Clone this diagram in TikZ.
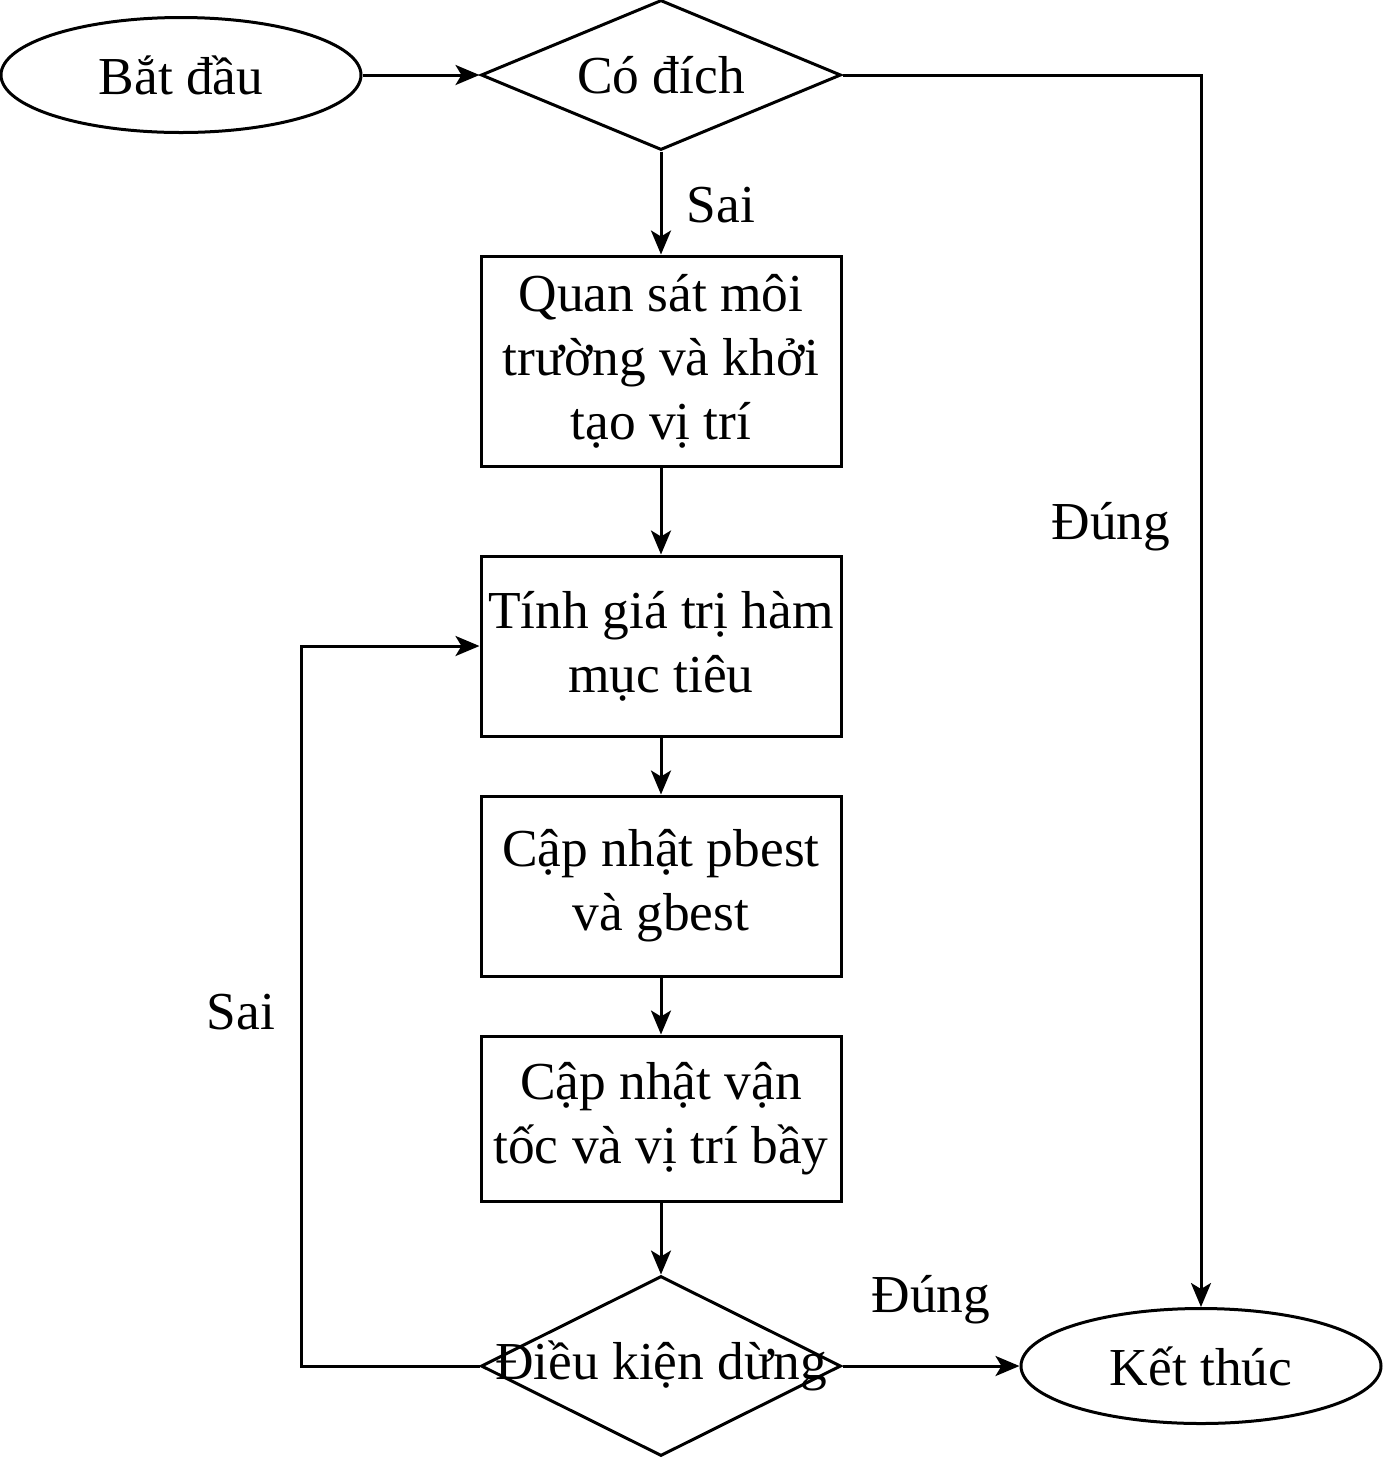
\documentclass[tikz,border=0pt]{standalone}
\usepackage{fontspec}
\setmainfont{Liberation Serif}
\usetikzlibrary{shapes.geometric,arrows.meta}

\begin{document}
\begin{tikzpicture}[x=0.5pt,y=-0.5pt,
    line width=1.5pt,
    font=\fontsize{26.7pt}{32pt}\selectfont,
    flow/.style={-{Stealth[length=12pt,width=10pt,inset=3pt]}},
    terminal/.style={draw,ellipse,minimum width=180pt,minimum height=57.5pt,inner sep=0pt},
    decision/.style={draw,diamond,minimum width=180pt,minimum height=75pt,inner sep=0pt},
    process/.style={draw,rectangle,minimum width=180pt,inner sep=0pt,align=center}]
  \useasboundingbox (0,0) rectangle (1383,1458);

  % Start and first test
  \node[terminal] (start) at (181,75) {Bắt đầu};
  \node[decision] (goal) at (661,75) {};
  \node (goaltext) at (goal) {Có đích};

  % Steps
  \node[process,minimum height=105pt] (observe) at (661,361) {Quan sát môi\\trường và khởi\\tạo vị trí};
  \node[process,minimum height=90pt] (fitness) at (661,646) {Tính giá trị hàm\\mục tiêu};
  \node[process,minimum height=90pt] (best) at (661,886) {Cập nhật pbest\\và gbest};
  \node[process,minimum height=82.5pt] (move) at (661,1118.5) {Cập nhật vận\\tốc và vị trí bầy};

  % Stop test and end
  \node[decision,minimum height=90pt] (stop) at (661,1366) {};
  \node (stoptext) at (stop) {Điều kiện dừng};
  \node[terminal] (finish) at (1201,1366) {Kết thúc};

  % Connectors
  \draw[flow] (start) -- (goal);
  \draw[flow] (goal) -- (observe);
  \draw[flow] (observe) -- (fitness);
  \draw[flow] (fitness) -- (best);
  \draw[flow] (best) -- (move);
  \draw[flow] (move) -- (stop);
  \draw[flow] (stop) -- (finish);
  \draw[flow] (goal.east) -| (finish.north);
  \coordinate (loop) at (301,1366);
  \draw[flow] (stop.west) -- (loop) |- (fitness.west);

  % Labels
  \node (sai1) at (721,205) {Sai};
  \node (dung1) at (1111,527) {Đúng};
  \node (dung2) at (931,1300) {Đúng};
  \node (sai2) at (241,1012) {Sai};
\end{tikzpicture}
\end{document}
